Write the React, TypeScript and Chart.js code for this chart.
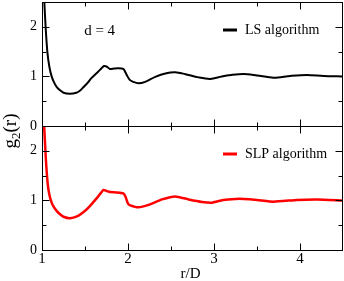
import React, { useEffect, useRef } from 'react';
import { Chart, registerables } from 'chart.js';
Chart.register(...registerables);

// LS algorithm (top panel)
const rLS = [1.005, 1.027, 1.042, 1.062, 1.085, 1.112, 1.14, 1.17, 1.21, 1.25, 1.325, 1.4, 1.44, 1.48, 1.53, 1.577, 1.655, 1.69, 1.72, 1.75, 1.79, 1.84, 1.887, 1.945, 1.965, 1.985, 2.02, 2.06, 2.12, 2.2, 2.317, 2.434, 2.55, 2.667, 2.82, 2.957, 3.09, 3.2, 3.345, 3.5, 3.693, 3.887, 4.08, 4.275, 4.49, 4.5];
const gLS = [3.3, 2.5, 2.0, 1.5, 1.2, 1.0, 0.88, 0.79, 0.72, 0.67, 0.65, 0.67, 0.71, 0.78, 0.87, 0.97, 1.1, 1.16, 1.21, 1.2, 1.15, 1.16, 1.165, 1.15, 1.1, 1.03, 0.93, 0.89, 0.86, 0.89, 0.99, 1.06, 1.085, 1.045, 0.98, 0.95, 1.0, 1.03, 1.05, 1.02, 0.975, 1.01, 1.03, 1.01, 1.0, 1.0];

// SLP algorithm (bottom panel)
const rSLP = [1.005, 1.025, 1.045, 1.065, 1.085, 1.112, 1.14, 1.17, 1.21, 1.25, 1.325, 1.42, 1.48, 1.54, 1.635, 1.713, 1.75, 1.79, 1.87, 1.945, 1.97, 2.0, 2.027, 2.12, 2.24, 2.395, 2.55, 2.705, 2.86, 2.977, 3.11, 3.25, 3.345, 3.5, 3.693, 3.965, 4.2, 4.49, 4.5];
const gSLP = [3.2, 2.5, 1.83, 1.36, 1.12, 0.955, 0.86, 0.79, 0.72, 0.67, 0.64, 0.69, 0.76, 0.855, 1.04, 1.21, 1.19, 1.17, 1.16, 1.14, 1.08, 0.935, 0.9, 0.86, 0.91, 1.02, 1.08, 1.02, 0.97, 0.955, 1.01, 1.03, 1.03, 1.01, 0.975, 1.01, 1.02, 1.0, 1.0];

const xMajorTicks = [1, 2, 3, 4];
const xMinorTicks = [1.5, 2.5, 3.5];
const yMajorTicks = [0, 1, 2];
const yMinorTicks = [0.5, 1.5];
const legendLS = 'LS algorithm';
const legendSLP = 'SLP algorithm';
const annotationText = 'd = 4';
const xTitle = 'r/D';

const SERIF = "'Liberation Serif', 'DejaVu Serif', serif";

const framePlugin = {
  id: 'framePlugin',
  beforeDatasetDraw(chart: any, args: any) {
    const ds = chart.data.datasets[args.index];
    const ys = chart.scales[ds.yAxisID];
    const ca = chart.chartArea;
    const ctx = chart.ctx;
    ctx.save();
    ctx.beginPath();
    ctx.rect(ca.left, ys.top, ca.right - ca.left, ys.bottom - ys.top);
    ctx.clip();
  },
  afterDatasetDraw(chart: any) {
    chart.ctx.restore();
  },
  afterDraw(chart: any) {
    const ctx = chart.ctx;
    const ca = chart.chartArea;
    const xs = chart.scales.x;
    ctx.save();
    ctx.strokeStyle = '#000';
    ctx.lineWidth = 1;
    ['yTop', 'yBot'].forEach((id) => {
      const ys = chart.scales[id];
      const top = Math.round(ys.top) + 0.5;
      const bot = Math.round(ys.bottom) + 0.5;
      const l = Math.round(ca.left) + 0.5;
      const r = Math.round(ca.right) - 0.5;
      ctx.strokeRect(l, top, r - l, bot - top);
      ctx.beginPath();
      const tickX = (v: number, len: number) => {
        const px = Math.round(xs.getPixelForValue(v)) + 0.5;
        ctx.moveTo(px, top); ctx.lineTo(px, top + len);
        ctx.moveTo(px, bot); ctx.lineTo(px, bot - len);
      };
      const tickY = (v: number, len: number) => {
        const py = Math.round(ys.getPixelForValue(v)) + 0.5;
        ctx.moveTo(l, py); ctx.lineTo(l + len, py);
        ctx.moveTo(r, py); ctx.lineTo(r - len, py);
      };
      xMajorTicks.forEach((v) => tickX(v, 7));
      xMinorTicks.forEach((v) => tickX(v, 4));
      yMajorTicks.forEach((v) => tickY(v, 7));
      yMinorTicks.forEach((v) => tickY(v, 4));
      ctx.stroke();
    });

    // legends
    const drawLegend = (id: string, text: string, color: string) => {
      const ys = chart.scales[id];
      const x0 = ca.right - 120;
      const ly = ys.top + 28;
      ctx.beginPath();
      ctx.strokeStyle = color;
      ctx.lineWidth = 3;
      ctx.moveTo(x0, ly);
      ctx.lineTo(x0 + 14, ly);
      ctx.stroke();
      ctx.fillStyle = '#000';
      ctx.font = `14px ${SERIF}`;
      ctx.textAlign = 'left';
      ctx.textBaseline = 'alphabetic';
      ctx.fillText(text, x0 + 22, ly + 3.5);
    };
    drawLegend('yTop', legendLS, '#000');
    drawLegend('yBot', legendSLP, '#ff0000');

    // annotation
    const yt = chart.scales.yTop;
    ctx.fillStyle = '#000';
    ctx.font = `15px ${SERIF}`;
    ctx.textAlign = 'left';
    ctx.textBaseline = 'alphabetic';
    ctx.fillText(annotationText, xs.getPixelForValue(1.49), yt.top + 33);

    // x title
    ctx.font = `15px ${SERIF}`;
    ctx.textAlign = 'center';
    ctx.fillText(xTitle, (ca.left + ca.right) / 2 - 2, ca.bottom + 28);

    // y title g_2(r)
    ctx.save();
    ctx.translate(16, (ca.top + ca.bottom) / 2 + 5);
    ctx.rotate(-Math.PI / 2);
    ctx.textAlign = 'left';
    const big = `19px ${SERIF}`;
    const small = `13px ${SERIF}`;
    ctx.font = big;
    const wg = ctx.measureText('g').width;
    ctx.font = small;
    const w2 = ctx.measureText('2').width;
    ctx.font = big;
    const wr = ctx.measureText('(r)').width;
    const total = wg + w2 + wr;
    let x = -total / 2;
    ctx.fillText('g', x, 0);
    x += wg;
    ctx.font = small;
    ctx.fillText('2', x, 4);
    x += w2;
    ctx.font = big;
    ctx.fillText('(r)', x, 0);
    ctx.restore();
    ctx.restore();
  },
};

export default function App() {
  const ref = useRef<HTMLCanvasElement | null>(null);
  useEffect(() => {
    document.body.style.margin = '0';
    const canvas = ref.current;
    if (!canvas) return;
    const yAxis = () => ({
      type: 'linear' as const,
      position: 'left' as const,
      stack: 'g',
      stackWeight: 1,
      min: 0,
      max: 2.5,
      grid: { display: false, drawTicks: false },
      border: { display: false },
      afterBuildTicks: (s: any) => {
        s.ticks = yMajorTicks.map((v) => ({ value: v }));
      },
      afterFit: (s: any) => {
        s.width = 42;
        s.paddingTop = 0;
        s.paddingBottom = 0;
      },
      ticks: {
        color: '#000',
        font: { family: SERIF, size: 14 },
        padding: 5,
        callback: (v: any) => String(v),
      },
    });
    const chart = new Chart(canvas, {
      type: 'line',
      data: {
        datasets: [
          {
            label: legendLS,
            data: rLS.map((r, i) => ({ x: r, y: gLS[i] })),
            borderColor: '#000',
            borderWidth: 2,
            pointRadius: 0,
            tension: 0.3,
            yAxisID: 'yTop',
            clip: false as any,
          },
          {
            label: legendSLP,
            data: rSLP.map((r, i) => ({ x: r, y: gSLP[i] })),
            borderColor: '#ff0000',
            borderWidth: 2.5,
            pointRadius: 0,
            tension: 0.15,
            yAxisID: 'yBot',
            clip: false as any,
          },
        ],
      },
      options: {
        responsive: false,
        animation: false,
        devicePixelRatio: 1,
        layout: { padding: { top: 2, right: 1, left: 0, bottom: 0 } },
        plugins: { legend: { display: false }, tooltip: { enabled: false } },
        scales: {
          x: {
            type: 'linear',
            min: 1,
            max: 4.5,
            grid: { display: false, drawTicks: false },
            border: { display: false },
            afterBuildTicks: (s: any) => {
              s.ticks = xMajorTicks.map((v) => ({ value: v }));
            },
            afterFit: (s: any) => {
              s.height = 31;
              s.paddingLeft = 0;
              s.paddingRight = 0;
            },
            ticks: {
              color: '#000',
              font: { family: SERIF, size: 15 },
              padding: 0,
              maxRotation: 0,
              autoSkip: false,
              callback: (v: any) => String(v),
            },
          },
          yBot: yAxis(),
          yTop: yAxis(),
        } as any,
      },
      plugins: [framePlugin],
    });
    return () => chart.destroy();
  }, []);
  return (
    <div style={{ position: 'fixed', left: 0, top: 0, width: 344, height: 281, background: '#fff' }}>
      <canvas ref={ref} width={344} height={281} style={{ display: 'block' }} />
    </div>
  );
}
